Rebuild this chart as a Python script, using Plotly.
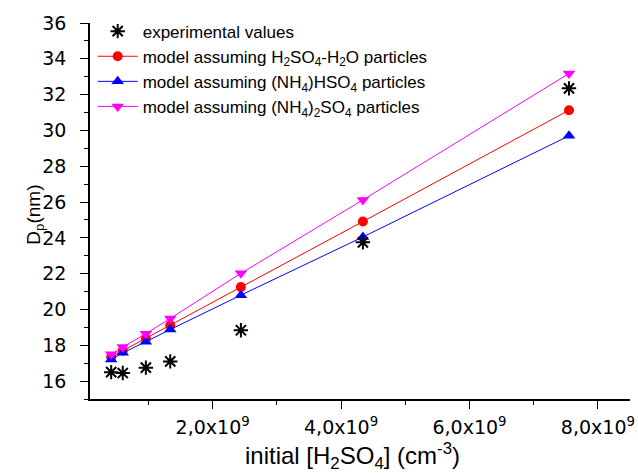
import plotly.graph_objects as go

# data (x in cm^-3)
x_vals = [0.42e9, 0.60e9, 0.96e9, 1.34e9, 2.44e9, 4.34e9, 7.55e9]
exp_vals = [16.50, 16.45, 16.75, 17.10, 18.84, 23.75, 32.35]
h2so4_vals = [17.35, 17.70, 18.37, 19.12, 21.25, 24.91, 31.13]
nh4hso4_vals = [17.20, 17.58, 18.20, 18.88, 20.80, 24.05, 29.70]
nh42so4_vals = [17.50, 17.90, 18.65, 19.50, 22.02, 26.12, 33.18]

x_tickvals = [2e9, 4e9, 6e9, 8e9]
x_ticktext = ["2,0x10<sup>9</sup>", "4,0x10<sup>9</sup>", "6,0x10<sup>9</sup>", "8,0x10<sup>9</sup>"]
x_minor = [1e9, 3e9, 5e9, 7e9]
y_tickvals = [16, 18, 20, 22, 24, 26, 28, 30, 32, 34, 36]
y_minor = [15, 17, 19, 21, 23, 25, 27, 29, 31, 33, 35]

names = [
    "experimental values",
    "model assuming H<sub>2</sub>SO<sub>4</sub>-H<sub>2</sub>O particles",
    "model assuming (NH<sub>4</sub>)HSO<sub>4</sub> particles",
    "model assuming (NH<sub>4</sub>)<sub>2</sub>SO<sub>4</sub> particles",
]
x_title = "initial [H<sub>2</sub>SO<sub>4</sub>] (cm<sup>-3</sup>)"
y_title = "D<sub>p</sub>(nm)"

fig = go.Figure()
fig.add_trace(go.Scatter(x=x_vals, y=h2so4_vals, name=names[1], mode="lines+markers",
                         line=dict(color="#ff0000", width=1),
                         marker=dict(symbol="circle", size=10, color="#ff0000"), legendrank=2))
fig.add_trace(go.Scatter(x=x_vals, y=nh4hso4_vals, name=names[2], mode="lines+markers",
                         line=dict(color="#0000ff", width=1),
                         marker=dict(symbol="triangle-up", size=11, color="#0000ff"), legendrank=3))
fig.add_trace(go.Scatter(x=x_vals, y=nh42so4_vals, name=names[3], mode="lines+markers",
                         line=dict(color="#ff00ff", width=1),
                         marker=dict(symbol="triangle-down", size=11, color="#ff00ff"), legendrank=4))
fig.add_trace(go.Scatter(x=x_vals, y=exp_vals, name=names[0], mode="markers",
                         marker=dict(symbol="asterisk-open", size=12, color="black",
                                     line=dict(color="black", width=2)), legendrank=1))

axis_common = dict(showline=True, linecolor="black", linewidth=1.5, ticks="outside",
                   ticklen=8, tickwidth=1, tickcolor="black", showgrid=False, zeroline=False,
                   mirror=False, automargin=False,
                   tickfont=dict(family="DejaVu Sans", size=19, color="black"))

fig.update_layout(
    width=638, height=473,
    margin=dict(l=90, r=8, t=23, b=74),
    paper_bgcolor="white", plot_bgcolor="white",
    font=dict(family="Liberation Sans, Arial", color="black"),
    showlegend=True,
    legend=dict(x=0.005, y=1.025, xanchor="left", yanchor="top", bgcolor="rgba(0,0,0,0)",
                font=dict(family="Liberation Sans, Arial", size=17, color="black"),
                tracegroupgap=0, itemwidth=40),
    xaxis=dict(range=[0.09e9, 8.5e9], tickvals=x_tickvals, ticktext=x_ticktext,
               ticklabelstandoff=2,
               minor=dict(tickvals=x_minor, ticklen=4, tickcolor="black", ticks="outside"),
               **axis_common),
    yaxis=dict(range=[15, 36], tickvals=y_tickvals, ticklabelstandoff=10,
               minor=dict(tickvals=y_minor, ticklen=4, tickcolor="black", ticks="outside"),
               **axis_common),
    annotations=[
        dict(text=x_title, xref="paper", yref="paper", x=0.487, y=-0.152,
             xanchor="center", yanchor="middle", showarrow=False,
             font=dict(family="Liberation Sans, Arial", size=24, color="black")),
        dict(text=y_title, xref="paper", yref="paper", x=-0.102, y=0.49,
             xanchor="center", yanchor="middle", showarrow=False, textangle=-90,
             font=dict(family="Liberation Sans, Arial", size=19, color="black")),
    ],
)

fig.write_html("out.html", config={"displayModeBar": False},
               post_script="document.body.style.margin='0';")
